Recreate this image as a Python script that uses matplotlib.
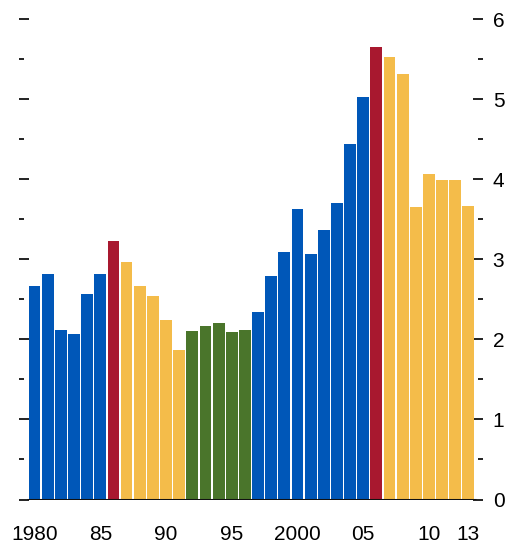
import matplotlib
matplotlib.use("Agg")
import matplotlib.pyplot as plt
import numpy as np

# Annual values, 1980-2013
years = list(range(1980, 2014))
values = [2.67, 2.82, 2.12, 2.07, 2.57, 2.82, 3.23, 2.97, 2.67, 2.54,
          2.24, 1.87, 2.11, 2.17, 2.21, 2.09, 2.12, 2.34, 2.79, 3.09,
          3.63, 3.07, 3.37, 3.71, 4.44, 5.03, 5.66, 5.53, 5.32, 3.66,
          4.07, 3.99, 3.99, 3.67]
# period groups: b = blue, r = red, y = yellow, g = green
groups = ["b"] * 6 + ["r"] + ["y"] * 5 + ["g"] * 5 + ["b"] * 9 + ["r"] + ["y"] * 7

xtick_years = [1980, 1985, 1990, 1995, 2000, 2005, 2010, 2013]
xtick_labels = ["1980", "85", "90", "95", "2000", "05", "10", "13"]
ytick_labels = ["0", "1", "2", "3", "4", "5", "6"]

palette = {"b": "#0057B8", "r": "#A8182F", "y": "#F4BC4A", "g": "#4A752B"}

plt.rcParams["font.family"] = ["Liberation Sans", "DejaVu Sans"]

fig = plt.figure(figsize=(5.06, 5.44), dpi=100)
ax = fig.add_axes([0.0375, 0.0818, 0.917, 0.8824])

ax.bar(years, values, width=0.9, color=[palette[g] for g in groups], zorder=2)
ax.plot([years[0] - 0.55, years[-1] + 0.55], [0, 0], color="#111111", lw=2.2,
        solid_capstyle="butt", zorder=3)

ax.set_xlim(years[0] - 0.5 - 0.685, years[-1] + 0.5 + 0.61)
ax.set_ylim(0, 6)

for s in ax.spines.values():
    s.set_visible(False)

ax.set_xticks(xtick_years)
ax.set_xticklabels(xtick_labels, fontsize=15)
ax.tick_params(axis="x", length=0, pad=18)

ax.set_yticks(range(7))
ax.set_yticklabels(ytick_labels, fontsize=15)
ax.set_yticks(np.arange(0.5, 6, 1), minor=True)
ax.tick_params(axis="y", which="both", direction="in", left=True, right=True,
               labelleft=False, labelright=True, color="#111111", width=1.3)
ax.tick_params(axis="y", which="major", length=7, pad=7)
ax.tick_params(axis="y", which="minor", length=3.5)

fig.savefig("out.png", dpi=100)
